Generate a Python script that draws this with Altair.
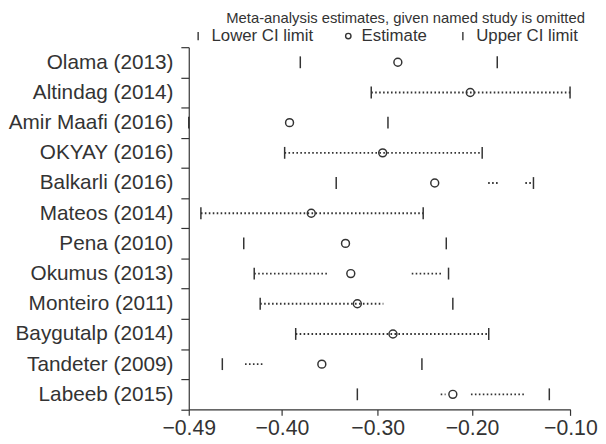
import altair as alt
import pandas as pd

studies = ["Olama (2013)", "Altindag (2014)", "Amir Maafi (2016)", "OKYAY (2016)",
           "Balkarli (2016)", "Mateos (2014)", "Pena (2010)", "Okumus (2013)",
           "Monteiro (2011)", "Baygutalp (2014)", "Tandeter (2009)", "Labeeb (2015)"]
lower = [-0.376, -0.3035, -0.49, -0.392, -0.3393, -0.4776, -0.4338, -0.4231,
         -0.417, -0.3807, -0.4557, -0.3177]
estimate = [-0.2763, -0.2023, -0.387, -0.2918, -0.2386, -0.3648, -0.3298, -0.3244,
            -0.3177, -0.2813, -0.354, -0.2201]
upper = [-0.1747, -0.1003, -0.2864, -0.1901, -0.1377, -0.2504, -0.2268, -0.2245,
         -0.2201, -0.1834, -0.2517, -0.1215]

# visible dotted stretches between the limits
dot_study = ["Altindag (2014)", "OKYAY (2016)", "Balkarli (2016)", "Balkarli (2016)",
             "Mateos (2014)", "Okumus (2013)", "Okumus (2013)", "Monteiro (2011)",
             "Baygutalp (2014)", "Tandeter (2009)", "Labeeb (2015)", "Labeeb (2015)"]
dot_start = [-0.3035, -0.3921, -0.184, -0.146, -0.4776, -0.4231, -0.2621, -0.417,
             -0.3807, -0.4325, -0.2325, -0.2016]
dot_end = [-0.1003, -0.1901, -0.172, -0.138, -0.2504, -0.3479, -0.2302, -0.2911,
           -0.1834, -0.4133, -0.2275, -0.146]

kinds = ["Lower CI limit", "Estimate", "Upper CI limit"]
tick_values = [-0.49, -0.3948, -0.2969, -0.2005, -0.10]
tick_labels = ["\u22120.49", "\u22120.40", "\u22120.30", "\u22120.20", "\u22120.10"]

rows = []
for s, lo, es, up in zip(studies, lower, estimate, upper):
    rows.append({"study": s, "value": lo, "kind": kinds[0]})
    rows.append({"study": s, "value": es, "kind": kinds[1]})
    rows.append({"study": s, "value": up, "kind": kinds[2]})
pts = pd.DataFrame(rows)
dots = pd.DataFrame({"study": dot_study, "start": dot_start, "end": dot_end})

# label expression built from the tick lists
expr = "'" + tick_labels[-1] + "'"
for i in range(len(tick_values) - 2, -1, -1):
    mid = (tick_values[i] + tick_values[i + 1]) / 2
    expr = f"datum.value < {mid} ? '{tick_labels[i]}' : ({expr})"

INK = "#333333"
FONT = "Liberation Sans"
bar_path = "M0,-1.5V1.5"

yenc = alt.Y("study:N", sort=studies,
             scale=alt.Scale(type="band", paddingInner=0, paddingOuter=0),
             axis=alt.Axis(title=None, tickBand="extent", tickSize=8, labelFontSize=21,
                           labelPadding=8, labelFont=FONT, labelColor=INK,
                           domainColor=INK, tickColor=INK, domainWidth=1.2, tickWidth=1.2))
xscale = alt.Scale(domain=[-0.49, -0.10], nice=False, zero=False)
xaxis = alt.Axis(title=None, values=tick_values, labelExpr=expr, tickSize=6,
                 labelFontSize=21.5, labelPadding=2, labelFont=FONT, labelColor=INK,
                 domainColor=INK, tickColor=INK, domainWidth=1.2, tickWidth=1.2,
                 grid=False, labelFlush=False)

dotted = alt.Chart(dots).mark_rule(strokeDash=[1.6, 2.4], strokeWidth=1.9, color=INK).encode(
    x=alt.X("start:Q", scale=xscale, axis=xaxis),
    x2="end:Q",
    y=yenc,
)

points = alt.Chart(pts).mark_point(filled=False, size=64, strokeWidth=1.5, color=INK, opacity=1).encode(
    x=alt.X("value:Q", scale=xscale, axis=xaxis),
    y=yenc,
    shape=alt.Shape("kind:N", scale=alt.Scale(domain=kinds, range=[bar_path, "circle", bar_path]),
                    legend=alt.Legend(title=None, orient="none", legendX=1, legendY=-20,
                                      direction="horizontal", columns=3, labelFontSize=17,
                                      labelFont=FONT, labelColor=INK, symbolSize=30,
                                      symbolStrokeColor=INK, symbolStrokeWidth=1.4,
                                      symbolFillColor="transparent", columnPadding=27,
                                      labelOffset=5)),
)

chart = alt.layer(dotted, points).properties(
    width=386.3, height=366.7,
    padding={"left": 183, "top": 37, "right": 28, "bottom": 31},
    autosize=alt.AutoSizeParams(type="none"),
    title=alt.TitleParams("Meta-analysis estimates, given named study is omitted",
                          anchor="start", frame="group", dx=38, offset=1, fontSize=15,
                          font=FONT, fontWeight="normal", color=INK),
).configure_view(stroke=None)

chart.save("out.html", embed_options={"renderer": "svg", "actions": False})
